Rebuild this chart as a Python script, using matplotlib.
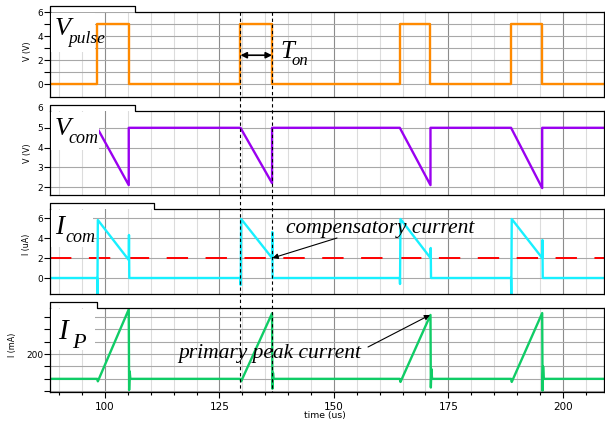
import matplotlib
matplotlib.use("Agg")
import matplotlib.pyplot as plt
import matplotlib.transforms as mtransforms
from matplotlib.lines import Line2D
from matplotlib.patches import Rectangle
from matplotlib.ticker import MultipleLocator, FixedLocator

W, H = 605, 423

# time (us) where the gate pulse goes high / low
pulse_on = [98.3, 129.6, 164.4, 188.7]
pulse_off = [105.2, 136.5, 171.1, 195.5]
pulse_high = 5.0

# V_com (V): resting level and the bottom of each ramp
vcom_base = 5.0
vcom_min = [2.1, 2.2, 2.1, 1.95]

# I_com (uA): dip at turn-on, start of ramp, end of ramp, kick at turn-off
icom_dip = [-2.0, -0.7, -0.6, -1.6]
icom_peak = [5.8, 5.9, 5.9, 5.9]
icom_end = [1.8, 2.0, 2.0, 2.0]
icom_kick = [4.3, 4.6, 3.0, 3.8]
icom_ref = 2.0

# I_P (mA): small notch at turn-on, ramp peak, ringing at turn-off
ip_start = [-20, -20, -25, -25]
ip_peak = [560, 528, 515, 530]
ip_under = [-90, -80, -70, -95]
ip_ring = [60, 50, 80, 100]

t_start, t_end = 88, 209
on_mark, off_mark = pulse_on[1], pulse_off[1]

# panel frames in pixels: (top, bottom, tab top, tab right end)
panels = [(12, 97, 6, 135), (111, 195, 105, 135),
          (209, 294, 203, 154), (308, 392, 302, 97)]
left_px, right_px = 50, 604


def fx(x):
    return x / W


def fy(y):
    return 1 - y / H


# ---- build traces from the breakpoints
vp_t, vp_v = [t_start], [0]
vc_t, vc_v = [t_start], [vcom_base]
ic_t, ic_v = [t_start], [0]
ip_t, ip_v = [t_start], [0]
for i in range(len(pulse_on)):
    a, b = pulse_on[i], pulse_off[i]
    vp_t += [a, a, b, b]
    vp_v += [0, pulse_high, pulse_high, 0]
    vc_t += [a, b, b]
    vc_v += [vcom_base, vcom_min[i], vcom_base]
    ic_t += [a, a + 0.05, a + 0.15, b, b + 0.05, b + 0.12]
    ic_v += [0, icom_dip[i], icom_peak[i], icom_end[i], icom_kick[i], 0]
    ip_t += [a, a + 0.15, b, b + 0.08, b + 0.2, b + 0.35]
    ip_v += [0, ip_start[i], ip_peak[i], ip_under[i], ip_ring[i], 0]
vp_t.append(t_end); vp_v.append(0)
vc_t.append(t_end); vc_v.append(vcom_base)
ic_t.append(t_end); ic_v.append(0)
ip_t.append(t_end); ip_v.append(0)

fig = plt.figure(figsize=(W / 100, H / 100), dpi=100)
axes = []
for top, bot, _, _ in panels:
    ax = fig.add_axes([fx(left_px), fy(bot), (right_px - left_px) / W, (bot - top) / H])
    axes.append(ax)
ax1, ax2, ax3, ax4 = axes

ax1.plot(vp_t, vp_v, color="#ff8a00", lw=1.7)
ax2.plot(vc_t, vc_v, color="#9a00f0", lw=1.7)
ax3.axhline(icom_ref, color="#ff0000", lw=1.4, dashes=(11, 9))
ax3.plot(ic_t, ic_v, color="#18f0ff", lw=1.7)
ax4.plot(ip_t, ip_v, color="#10cc66", lw=1.7)

ax1.set_ylim(-1.08, 6)
ax1.yaxis.set_major_locator(FixedLocator([0, 2, 4, 6]))
ax1.yaxis.set_minor_locator(FixedLocator([1, 3, 5]))
ax2.set_ylim(1.6, 5.85)
ax2.yaxis.set_major_locator(FixedLocator([2, 3, 4, 5]))
ax3.set_ylim(-1.6, 6.9)
ax3.yaxis.set_major_locator(FixedLocator([0, 2, 4, 6]))
ax4.set_ylim(-106, 571)
ax4.yaxis.set_major_locator(FixedLocator([200]))
ax4.yaxis.set_minor_locator(FixedLocator([-100, 0, 100, 300, 400, 500]))

ylabels = ["V (V)", "V (V)", "I (uA)", "I (mA)"]
ylab_pos = [(-0.033, 0.54), (-0.033, 0.50), (-0.034, 0.58), (-0.06, 0.56)]

for i, ax in enumerate(axes):
    ax.set_xlim(t_start, t_end)
    ax.xaxis.set_major_locator(MultipleLocator(25))
    ax.xaxis.set_minor_locator(MultipleLocator(5))
    ax.grid(True, which="major", axis="x", color="#8c8c8c", lw=0.8)
    ax.grid(True, which="minor", axis="x", color="#dcdcdc", lw=0.8)
    ax.grid(True, which="both", axis="y", color="#a8a8a8", lw=0.8)
    ax.set_axisbelow(True)
    ax.spines["top"].set_visible(False)
    for s in ["left", "right", "bottom"]:
        ax.spines[s].set_linewidth(0.9)
    ax.tick_params(axis="y", which="major", length=4, width=0.8, pad=1, labelsize=6.5)
    ax.tick_params(axis="y", which="minor", length=4, width=0.8)
    if ax is ax4:
        ax.tick_params(axis="x", which="major", length=4, width=0.8, pad=3, labelsize=7.5)
        ax.tick_params(axis="x", which="minor", length=2.5, width=0.8)
    else:
        ax.tick_params(axis="x", which="both", length=0, labelbottom=False)
    ax.set_ylabel(ylabels[i], fontsize=5.8)
    ax.yaxis.set_label_coords(*ylab_pos[i])

# "6" label above the V_com frame
ax2.text(-0.012, 6.0, "6", fontsize=6.5, ha="right", va="center", clip_on=False,
         transform=mtransforms.blended_transform_factory(ax2.transAxes, ax2.transData))

# stepped title tabs on top of each panel
for top, bot, tab_top, tab_end in panels:
    fig.add_artist(Line2D([fx(left_px), fx(left_px), fx(tab_end), fx(tab_end), fx(right_px)],
                          [fy(top), fy(tab_top), fy(tab_top), fy(top), fy(top)],
                          color="black", lw=0.9))

# white boxes behind the signal names
boxes = [(51, 13, 95, 52), (51, 112, 99, 150), (51, 210, 93, 247), (51, 309, 95, 350)]
for x0, y0, x1, y1 in boxes:
    fig.add_artist(Rectangle((fx(x0), fy(y1)), (x1 - x0) / W, (y1 - y0) / H,
                             facecolor="white", edgecolor="none", zorder=1))

serif = dict(family="Liberation Serif", style="italic")
fig.text(fx(55), fy(35), "V", fontsize=19, **serif)
fig.text(fx(68), fy(43), "pulse", fontsize=12.5, **serif)
fig.text(fx(55), fy(135), "V", fontsize=19, **serif)
fig.text(fx(68), fy(143), "com", fontsize=13, **serif)
fig.text(fx(55), fy(234), "I", fontsize=19.5, **serif)
fig.text(fx(65), fy(242), "com", fontsize=13, **serif)
fig.text(fx(58), fy(339), "I", fontsize=21, **serif)
fig.text(fx(72), fy(348), "P", fontsize=16, **serif)
fig.text(fx(280), fy(58), "T", fontsize=18, **serif)
fig.text(fx(292), fy(65), "on", fontsize=12, **serif)

# dashed markers for T_on across all panels
blend = mtransforms.blended_transform_factory(ax4.transData, fig.transFigure)
for t in [on_mark, off_mark]:
    fig.add_artist(Line2D([t, t], [fy(12), fy(392)], transform=blend,
                          color="black", lw=0.8, dashes=(3, 2.5), zorder=4))

ax1.annotate("", xy=(off_mark, 2.4), xytext=(on_mark, 2.4),
             arrowprops=dict(arrowstyle="<|-|>", color="black", lw=1.2,
                             shrinkA=0, shrinkB=0, mutation_scale=9))

fig.text(fx(380), fy(228), "compensatory current", fontsize=15.5, ha="center", va="center", **serif)
ax3.annotate("", xy=(off_mark + 0.1, icom_ref), xytext=(337, H - 238), textcoords="figure pixels",
             arrowprops=dict(arrowstyle="-|>", color="black", lw=0.8, shrinkA=0, shrinkB=0,
                             mutation_scale=8))
fig.text(fx(270), fy(353), "primary peak current", fontsize=15.5, ha="center", va="center", **serif)
ax4.annotate("", xy=(pulse_off[2] - 0.1, ip_peak[2]), xytext=(368, H - 347), textcoords="figure pixels",
             arrowprops=dict(arrowstyle="-|>", color="black", lw=0.8, shrinkA=0, shrinkB=0,
                             mutation_scale=8))

fig.text(fx(325), fy(415), "time (us)", fontsize=6.7, ha="center", va="center")

fig.savefig("out.png", dpi=100)
